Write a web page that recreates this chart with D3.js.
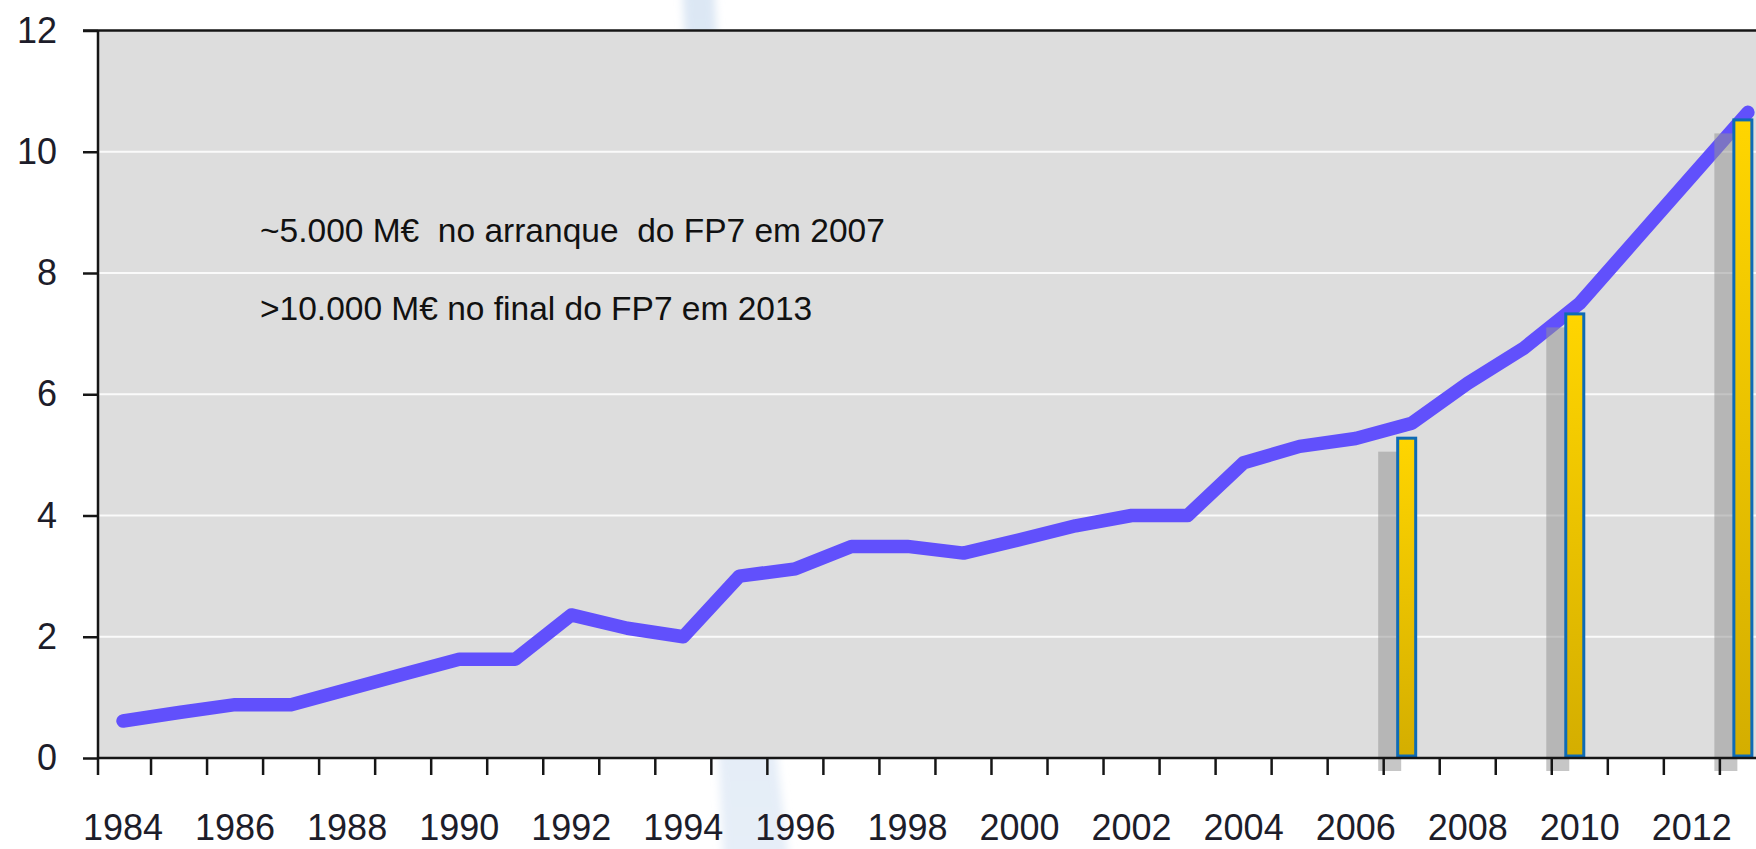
<!DOCTYPE html>
<html>
<head>
<meta charset="utf-8">
<script src="https://cdn.jsdelivr.net/npm/d3@7"></script>
<style>
  body { margin: 0; background: #fff; }
  text { font-family: "Liberation Sans", Arial, sans-serif; }
</style>
</head>
<body>
<svg id="chart"></svg>
<script>
const WIDTH = 1756;
const HEIGHT = 849;

// data (values in thousand M€)
const years = [1984, 1985, 1986, 1987, 1988, 1989, 1990, 1991, 1992, 1993,
               1994, 1995, 1996, 1997, 1998, 1999, 2000, 2001, 2002, 2003,
               2004, 2005, 2006, 2007, 2008, 2009, 2010, 2011, 2012, 2013];
const budget = [0.61, 0.75, 0.88, 0.88, 1.13, 1.38, 1.63, 1.63, 2.36, 2.14,
                2.00, 3.00, 3.12, 3.49, 3.49, 3.38, 3.60, 3.83, 4.00, 4.00,
                4.87, 5.14, 5.27, 5.52, 6.18, 6.76, 7.50, 8.55, 9.60, 10.65];
const barYears = [2007, 2010, 2013];
const barValues = [5.30, 7.35, 10.55];
const yTicks = [0, 2, 4, 6, 8, 10, 12];
const xLabels = [1984, 1986, 1988, 1990, 1992, 1994, 1996, 1998, 2000, 2002, 2004, 2006, 2008, 2010, 2012];
const notes = ["~5.000 M€  no arranque  do FP7 em 2007", ">10.000 M€ no final do FP7 em 2013"];

const LEFT = 98;
const TOP = 30.5;
const BOTTOM = 758;
const STEP = 56.03;

const x = d3.scaleBand()
    .domain(years)
    .range([95, 95 + years.length * STEP]);
const y = d3.scaleLinear()
    .domain([0, 12])
    .range([BOTTOM, TOP]);

const svg = d3.select("#chart")
    .attr("width", WIDTH)
    .attr("height", HEIGHT);

const defs = svg.append("defs");
const gold = defs.append("linearGradient")
    .attr("id", "gold").attr("x1", 0).attr("y1", 0).attr("x2", 0).attr("y2", 1);
gold.append("stop").attr("offset", "0%").attr("stop-color", "#ffd500");
gold.append("stop").attr("offset", "100%").attr("stop-color", "#d4ae00");

const swoosh = defs.append("linearGradient")
    .attr("id", "swoosh").attr("x1", 0).attr("y1", 0).attr("x2", 0).attr("y2", 1);
swoosh.append("stop").attr("offset", "0%").attr("stop-color", "#dce7f4");
swoosh.append("stop").attr("offset", "100%").attr("stop-color", "#e6eef8");
defs.append("filter").attr("id", "soft")
    .attr("filterUnits", "userSpaceOnUse")
    .attr("x", 600).attr("y", -50).attr("width", 300).attr("height", 950)
    .append("feGaussianBlur").attr("stdDeviation", 4);

// faint background decoration
svg.append("path")
    .attr("d", "M682,-20 L714,-20 C728,300 758,600 790,870 L724,870 C712,600 697,300 682,-20 Z")
    .attr("fill", "url(#swoosh)")
    .attr("filter", "url(#soft)");

// plot area
svg.append("rect")
    .attr("x", LEFT).attr("y", TOP)
    .attr("width", WIDTH - LEFT).attr("height", BOTTOM - TOP)
    .attr("fill", "#dddddd");

// grid
svg.append("g")
    .selectAll("line")
    .data(yTicks.filter(d => d > 0 && d < 12))
    .enter()
    .append("line")
    .attr("x1", LEFT).attr("x2", WIDTH)
    .attr("y1", d => y(d)).attr("y2", d => y(d))
    .attr("stroke", "#fafafa")
    .attr("stroke-width", 2.2);

// the budget line
const line = d3.line()
    .x((d, i) => x(years[i]) + x.bandwidth() / 2)
    .y(d => y(d));
svg.append("path")
    .datum(budget)
    .attr("d", line)
    .attr("fill", "none")
    .attr("stroke", "#6150fc")
    .attr("stroke-width", 13.5)
    .attr("stroke-linecap", "round")
    .attr("stroke-linejoin", "round");

// bar shadows
svg.append("g")
    .selectAll("rect")
    .data(barValues)
    .enter()
    .append("rect")
    .attr("x", (d, i) => x(barYears[i]) + 12.5 - 18)
    .attr("y", d => y(d) + 15)
    .attr("width", 23)
    .attr("height", d => BOTTOM - 2 - y(d))
    .attr("fill", "rgb(147,147,147)")
    .attr("fill-opacity", 0.53);

// FP7 bars
svg.append("g")
    .selectAll("rect")
    .data(barValues)
    .enter()
    .append("rect")
    .attr("x", (d, i) => x(barYears[i]) + 14)
    .attr("y", d => y(d) + 1.5)
    .attr("width", 18)
    .attr("height", d => BOTTOM - 3.5 - y(d))
    .attr("fill", "url(#gold)")
    .attr("stroke", "#0e6bb5")
    .attr("stroke-width", 3);

// axes
const axisColor = "#161616";
svg.append("line")
    .attr("x1", 83).attr("x2", WIDTH)
    .attr("y1", TOP).attr("y2", TOP)
    .attr("stroke", axisColor).attr("stroke-width", 2.5);
svg.append("line")
    .attr("x1", LEFT).attr("x2", WIDTH)
    .attr("y1", BOTTOM).attr("y2", BOTTOM)
    .attr("stroke", axisColor).attr("stroke-width", 2.5);
svg.append("line")
    .attr("x1", LEFT).attr("x2", LEFT)
    .attr("y1", TOP).attr("y2", BOTTOM + 17)
    .attr("stroke", axisColor).attr("stroke-width", 2.5);

const yAxis = svg.append("g")
    .attr("transform", `translate(${LEFT},0)`)
    .call(d3.axisLeft(y).tickValues(yTicks).tickSize(15).tickPadding(26));
yAxis.select(".domain").remove();
yAxis.selectAll(".tick line").attr("stroke", axisColor).attr("stroke-width", 2.5);
yAxis.selectAll(".tick text")
    .attr("fill", "#1d1d2a")
    .style("font-size", "36px")
    .style("font-family", "'Liberation Sans', Arial, sans-serif");

svg.append("g")
    .selectAll("line")
    .data(years.slice(1))
    .enter()
    .append("line")
    .attr("x1", d => x(d)).attr("x2", d => x(d))
    .attr("y1", BOTTOM).attr("y2", BOTTOM + 17)
    .attr("stroke", axisColor)
    .attr("stroke-width", 2.5);

svg.append("g")
    .selectAll("text")
    .data(xLabels)
    .enter()
    .append("text")
    .attr("x", d => x(d) + x.bandwidth() / 2)
    .attr("y", 840)
    .attr("text-anchor", "middle")
    .attr("fill", "#1d1d2a")
    .style("font-size", "36px")
    .text(d => d);

// notes
svg.append("g")
    .selectAll("text")
    .data(notes)
    .enter()
    .append("text")
    .attr("x", 260)
    .attr("y", (d, i) => 242 + i * 78)
    .attr("fill", "#111")
    .style("font-size", "33.5px")
    .style("white-space", "pre")
    .text(d => d);
</script>
</body>
</html>
